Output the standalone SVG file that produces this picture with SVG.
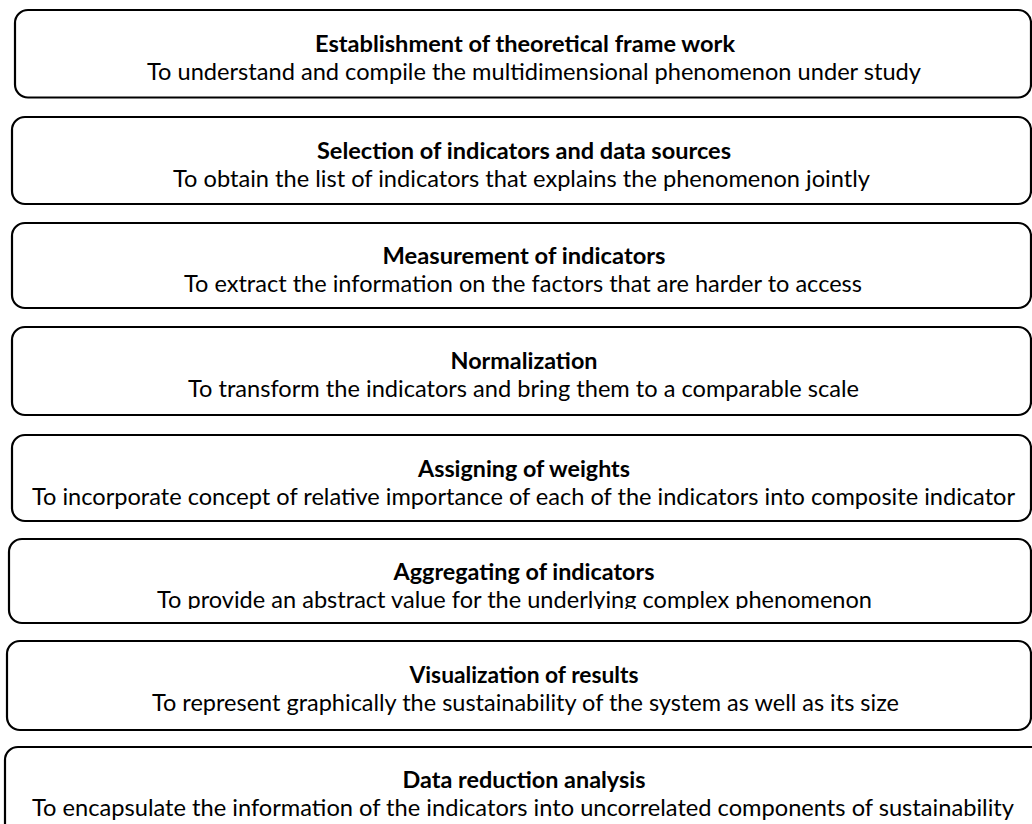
<svg xmlns="http://www.w3.org/2000/svg" width="1032" height="824" viewBox="0 0 1032 824">
<style>
.box{fill:#fff;stroke:#000;stroke-width:2.2}
.t{font-family:Lato,"Liberation Sans",sans-serif;font-size:23px;font-weight:bold;fill:#000}
.s{font-family:Lato,"Liberation Sans",sans-serif;font-size:23px;fill:#000}
</style>
<defs>
<clipPath id="clip6"><rect x="0" y="539" width="1032" height="70"/></clipPath>
</defs>
<rect width="1032" height="824" fill="#fff"/>
<g id="connectors"></g>
<g id="n1">
<rect class="box" x="15" y="10" width="1016" height="87.5" rx="13"/>
<text class="t" x="315" y="52" textLength="420" lengthAdjust="spacingAndGlyphs">Establishment of theoretical frame work</text>
<text class="s" x="147" y="80" textLength="774" lengthAdjust="spacingAndGlyphs">To understand and compile the multidimensional phenomenon under study</text>
</g>
<g id="n2">
<rect class="box" x="12" y="117" width="1019" height="87" rx="13"/>
<text class="t" x="317" y="159" textLength="414" lengthAdjust="spacingAndGlyphs">Selection of indicators and data sources</text>
<text class="s" x="173" y="187" textLength="697" lengthAdjust="spacingAndGlyphs">To obtain the list of indicators that explains the phenomenon jointly</text>
</g>
<g id="n3">
<rect class="box" x="12" y="223" width="1019" height="85" rx="13"/>
<text class="t" x="382.5" y="264" textLength="283" lengthAdjust="spacingAndGlyphs">Measurement of indicators</text>
<text class="s" x="184" y="292" textLength="678" lengthAdjust="spacingAndGlyphs">To extract the information on the factors that are harder to access</text>
</g>
<g id="n4">
<rect class="box" x="12" y="327" width="1019" height="88" rx="13"/>
<text class="t" x="450.5" y="369" textLength="147" lengthAdjust="spacingAndGlyphs">Normalization</text>
<text class="s" x="188" y="397" textLength="671" lengthAdjust="spacingAndGlyphs">To transform the indicators and bring them to a comparable scale</text>
</g>
<g id="n5">
<rect class="box" x="12" y="435" width="1019" height="86" rx="13"/>
<text class="t" x="418" y="477" textLength="212" lengthAdjust="spacingAndGlyphs">Assigning of weights</text>
<text class="s" x="32" y="505" textLength="983" lengthAdjust="spacingAndGlyphs">To incorporate concept of relative importance of each of the indicators into composite indicator</text>
</g>
<g id="n6">
<rect class="box" x="9" y="539" width="1022" height="84" rx="13"/>
<text class="t" x="393.5" y="580" textLength="261" lengthAdjust="spacingAndGlyphs">Aggregating of indicators</text>
<text class="s" x="157" y="608" textLength="715" lengthAdjust="spacingAndGlyphs" clip-path="url(#clip6)">To provide an abstract value for the underlying complex phenomenon</text>
</g>
<g id="n7">
<rect class="box" x="7" y="641" width="1024" height="89" rx="13"/>
<text class="t" x="409.5" y="683" textLength="229" lengthAdjust="spacingAndGlyphs">Visualization of results</text>
<text class="s" x="152" y="711" textLength="747" lengthAdjust="spacingAndGlyphs">To represent graphically the sustainability of the system as well as its size</text>
</g>
<g id="n8">
<rect class="box" x="5" y="747" width="1040" height="110" rx="13"/>
<text class="t" x="402.5" y="788" textLength="243" lengthAdjust="spacingAndGlyphs">Data reduction analysis</text>
<text class="s" x="32" y="816" textLength="982" lengthAdjust="spacingAndGlyphs">To encapsulate the information of the indicators into uncorrelated components of sustainability</text>
</g>
</svg>
